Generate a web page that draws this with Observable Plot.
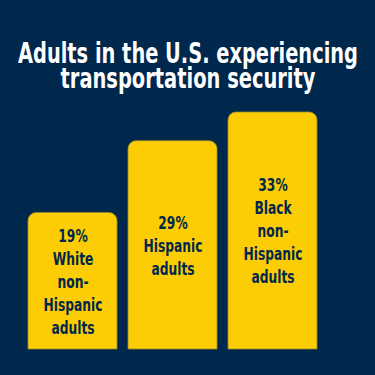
<!DOCTYPE html>
<html>
<head>
<meta charset="utf-8">
<script src="https://cdn.jsdelivr.net/npm/d3@7"></script>
<script src="https://cdn.jsdelivr.net/npm/@observablehq/plot@0.6"></script>
<style>
  html, body { margin: 0; padding: 0; background: #00274c; }
  #wrap { width: 375px; height: 375px; overflow: hidden; background: #00274c; }
  #title {
    box-sizing: border-box;
    height: 100px;
    padding-top: 41px;
    margin: 0;
    color: #ffffff;
    font-family: "DejaVu Sans Condensed", "DejaVu Sans", sans-serif;
    font-weight: bold;
    font-size: 28px;
    line-height: 25px;
    overflow: hidden;
  }
  #title .ln { display: block; position: relative; left: 50%; white-space: nowrap; width: max-content; transform-origin: center; }
  #chart svg { display: block; }
</style>
</head>
<body>
<div id="wrap">
  <div id="title"><span class="ln">Adults in the U.S. experiencing</span><span class="ln">transportation security</span></div>
  <div id="chart"></div>
</div>
<script>
const groups = ["White non-Hispanic adults", "Hispanic adults", "Black non-Hispanic adults"];
const values = [19, 29, 33];
const labels = ["White\nnon-\nHispanic\nadults", "Hispanic\nadults", "Black\nnon-\nHispanic\nadults"];

const data = groups.map((g, i) => ({
  group: g,
  value: values[i],
  label: values[i] + "%\n" + labels[i]
}));

const navy = "#00274c";
const maize = "#fccd05";

// condense title lines to the reference widths, centred
const titleWidths = [340, 255];
document.querySelectorAll("#title .ln").forEach((el, i) => {
  const w = el.getBoundingClientRect().width;
  el.style.transform = `translateX(-50%) scaleX(${titleWidths[i] / w})`;
});

const chart = Plot.plot({
  width: 375,
  height: 275,
  marginTop: 12,
  marginBottom: 26,
  marginLeft: 22.5,
  marginRight: 52.5,
  style: { background: "transparent", fontFamily: "'DejaVu Sans Condensed', 'DejaVu Sans', sans-serif" },
  x: { domain: groups, axis: null, paddingInner: 0.11, paddingOuter: 0.055 },
  y: { domain: [0, 33], axis: null },
  marks: [
    Plot.barY(data, {
      x: "group",
      y: "value",
      fill: maize,
      stroke: "#9c8a2a",
      strokeWidth: 0.8,
      ry1: 8
    }),
    Plot.text(data, {
      x: "group",
      y: d => d.value / 2,
      text: "label",
      fill: navy,
      fontSize: 18,
      fontWeight: "bold",
      lineHeight: 1.28,
      lineAnchor: "middle",
      dy: -1
    })
  ]
});
document.getElementById("chart").appendChild(chart);

// condense the bar labels horizontally (reference uses a condensed face)
const texts = chart.querySelectorAll("g[aria-label='text'] text");
let k = 0.8;
const probe = Array.from(chart.querySelectorAll("g[aria-label='text'] tspan")).find(t => t.textContent === "Hispanic");
if (probe) k = 59 / probe.getComputedTextLength();
texts.forEach(t => {
  const g = document.createElementNS("http://www.w3.org/2000/svg", "g");
  t.parentNode.insertBefore(g, t);
  g.appendChild(t);
  const b = g.getBBox();
  const cx = b.x + b.width / 2;
  g.setAttribute("transform", `translate(${cx},0) scale(${k},1) translate(${-cx},0)`);
});
</script>
</body>
</html>
